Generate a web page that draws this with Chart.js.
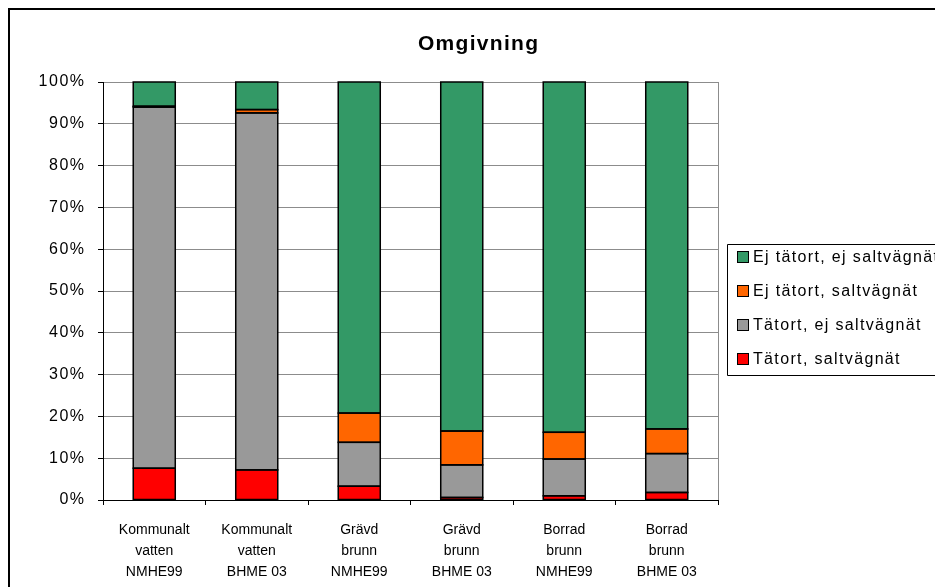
<!DOCTYPE html>
<html>
<head>
<meta charset="utf-8">
<script src="https://cdn.jsdelivr.net/npm/chart.js@4.4.1/dist/chart.umd.min.js"></script>
<style>
  html, body { margin: 0; padding: 0; background: #fff; }
  #wrap { width: 935px; height: 587px; position: relative; }
</style>
</head>
<body>
<div id="wrap"><canvas id="c" width="935" height="587"></canvas></div>
<script>
// Categories (multi-line labels)
const categories = [
  ['Kommunalt', 'vatten', 'NMHE99'],
  ['Kommunalt', 'vatten', 'BHME 03'],
  ['Grävd', 'brunn', 'NMHE99'],
  ['Grävd', 'brunn', 'BHME 03'],
  ['Borrad', 'brunn', 'NMHE99'],
  ['Borrad', 'brunn', 'BHME 03']
];

// Shares in percent, stacked bottom to top
const tatortSalt     = [7.6, 7.2, 3.3, 0.6, 1.0, 1.8];
const tatortEjSalt   = [86.4, 85.4, 10.5, 7.8, 8.8, 9.3];
const ejTatortSalt   = [0.2, 0.8, 7.0, 8.1, 6.4, 5.9];
const ejTatortEjSalt = [5.8, 6.6, 79.2, 83.5, 83.8, 83.0];

const yTicks = [0, 10, 20, 30, 40, 50, 60, 70, 80, 90, 100];

const FONT = '"Liberation Sans", Arial, sans-serif';

function spacedText(ctx, text, x, y, spacing, align) {
  // draws text with extra letter spacing; align 'left' | 'right' | 'center'
  let w = 0;
  for (const ch of text) w += ctx.measureText(ch).width + spacing;
  w -= spacing;
  let cx = align === 'right' ? x - w : align === 'center' ? x - w / 2 : x;
  ctx.textAlign = 'left';
  for (const ch of text) {
    ctx.fillText(ch, cx, y);
    cx += ctx.measureText(ch).width + spacing;
  }
}

// Black outlines centred on each segment's edges
const segmentOutline = {
  id: 'segmentOutline',
  afterDatasetsDraw(chart) {
    const ctx = chart.ctx;
    ctx.save();
    ctx.strokeStyle = '#000';
    ctx.lineWidth = 1.5;
    chart.data.datasets.forEach((d, i) => {
      chart.getDatasetMeta(i).data.forEach(el => {
        const p = el.getProps(['x', 'y', 'base', 'width'], true);
        const top = Math.min(p.y, p.base);
        ctx.strokeRect(p.x - p.width / 2, top, p.width, Math.abs(p.base - p.y));
      });
    });
    ctx.restore();
  }
};

// Frame, title, y labels, plot border and legend
const decor = {
  id: 'decor',
  beforeDraw(chart) {
    const ctx = chart.ctx;
    ctx.save();
    ctx.fillStyle = '#fff';
    ctx.fillRect(0, 0, chart.width, chart.height);
    ctx.strokeStyle = '#000';
    ctx.lineWidth = 2;
    ctx.beginPath();
    ctx.moveTo(9, chart.height + 5);
    ctx.lineTo(9, 9);
    ctx.lineTo(chart.width + 5, 9);
    ctx.stroke();
    ctx.restore();
  },
  afterDraw(chart) {
    const ctx = chart.ctx;
    const a = chart.chartArea;
    const ys = chart.scales.y;
    ctx.save();
    // right edge of plot area
    ctx.strokeStyle = '#8c8c8c';
    ctx.lineWidth = 1;
    ctx.beginPath();
    ctx.moveTo(Math.round(a.right) + 0.5, a.top);
    ctx.lineTo(Math.round(a.right) + 0.5, a.bottom);
    ctx.stroke();

    // y axis labels
    ctx.fillStyle = '#000';
    ctx.font = '16px ' + FONT;
    ctx.textBaseline = 'middle';
    yTicks.forEach(v => {
      spacedText(ctx, v + '%', 84, ys.getPixelForValue(v), 1.5, 'right');
    });

    // title
    ctx.font = 'bold 21px ' + FONT;
    spacedText(ctx, 'Omgivning', 478, 44, 1.3, 'center');

    // legend
    const lx = 727.5, ly = 244.5;
    ctx.strokeStyle = '#000';
    ctx.lineWidth = 1;
    ctx.beginPath();
    ctx.moveTo(chart.width + 2, ly);
    ctx.lineTo(lx, ly);
    ctx.lineTo(lx, 375.5);
    ctx.lineTo(chart.width + 2, 375.5);
    ctx.stroke();

    const ds = chart.data.datasets.slice().reverse();
    ctx.font = '16px ' + FONT;
    ds.forEach((d, i) => {
      const cy = 257 + i * 34;
      ctx.fillStyle = d.backgroundColor;
      ctx.fillRect(738, cy - 5, 11, 11);
      ctx.strokeStyle = '#000';
      ctx.strokeRect(737.5, cy - 5.5, 11, 11);
      ctx.fillStyle = '#000';
      spacedText(ctx, d.label, 753, cy + 1, 1.35, 'left');
    });
    ctx.restore();
  }
};

const mk = (label, data, color) => ({
  label, data,
  backgroundColor: color,
  borderWidth: 0,
  inflateAmount: 0,
  categoryPercentage: 1,
  barPercentage: 0.41
});

new Chart(document.getElementById('c'), {
  type: 'bar',
  data: {
    labels: categories,
    datasets: [
      mk('Tätort, saltvägnät', tatortSalt, '#ff0000'),
      mk('Tätort, ej saltvägnät', tatortEjSalt, '#999999'),
      mk('Ej tätort, saltvägnät', ejTatortSalt, '#ff6600'),
      mk('Ej tätort, ej saltvägnät', ejTatortEjSalt, '#339966')
    ]
  },
  options: {
    responsive: false,
    animation: false,
    layout: { padding: { left: 0, top: 82, right: 217, bottom: 0 } },
    plugins: {
      legend: { display: false },
      title: { display: false },
      tooltip: { enabled: false }
    },
    scales: {
      x: {
        stacked: true,
        afterFit(s) { s.height = 87; },
        grid: {
          offset: true,
          drawOnChartArea: false,
          tickLength: 5,
          tickColor: '#000'
        },
        border: { color: '#000', width: 1 },
        ticks: {
          color: '#000',
          font: { family: FONT, size: 14, lineHeight: 1.5 },
          padding: 15,
          maxRotation: 0,
          autoSkip: false
        }
      },
      y: {
        stacked: true,
        min: 0,
        max: 100,
        afterFit(s) { s.width = 103; },
        afterBuildTicks(s) { s.ticks = yTicks.map(v => ({ value: v })); },
        grid: {
          color: '#8c8c8c',
          lineWidth: 1,
          tickLength: 5,
          tickColor: '#000'
        },
        border: { color: '#000', width: 1 },
        ticks: { display: false }
      }
    }
  },
  plugins: [segmentOutline, decor]
});
</script>
</body>
</html>
